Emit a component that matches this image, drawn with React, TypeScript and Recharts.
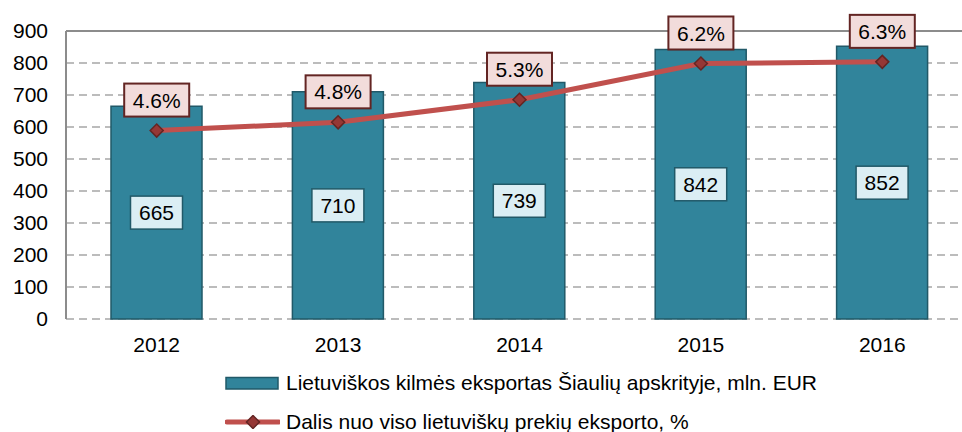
import {
  Bar,
  CartesianGrid,
  ComposedChart,
  LabelList,
  Legend,
  Line,
  ReferenceLine,
  XAxis,
  YAxis,
} from "recharts";

/**
 * Eksportas is Siauliu apskrities: stulpeliai = mln. EUR, linija = dalis
 * nuo viso lietuvisku prekiu eksporto (%), ant paslepto antro Y.
 */

const METAI = ["2012", "2013", "2014", "2015", "2016"];
const EKSPORTAS = [665, 710, 739, 842, 852];
// skaitoma nuo tasku aukscio, etiketes rodo suapvalinta reiksme
const DALIS = [4.58, 4.78, 5.33, 6.21, 6.25];
const Y_TICKS = [0, 100, 200, 300, 400, 500, 600, 700, 800, 900];
const KRASTAI = [0, 1, 2, 3, 4, 5];

const PAV_STULP = "Lietuviškos kilmės eksportas Šiaulių apskrityje, mln. EUR";
const PAV_LINIJA = "Dalis nuo viso lietuviškų prekių eksporto, %";

const SRIFTAS = '"Liberation Sans", Arial, sans-serif';
const FS = 21;

const TEAL = "#31849B";
const TEAL_TAMSI = "#215968";
const RAUDONA = "#C0504D";
const RAUDONA_TAMSI = "#632523";

const duomenys = METAI.map((m, i) => ({
  metai: m,
  eksportas: EKSPORTAS[i],
  dalis: DALIS[i],
}));

function StulpEtikete(props: any) {
  const { x, y, width, height, value } = props;
  const cx = x + width / 2;
  const cy = y + height / 2;
  const w = 52;
  const h = 33;
  return (
    <g>
      <rect
        x={cx - w / 2}
        y={cy - h / 2}
        width={w}
        height={h}
        fill="#DBEEF4"
        stroke={TEAL_TAMSI}
        strokeWidth={1.5}
      />
      <text
        x={cx}
        y={cy}
        dy="0.36em"
        textAnchor="middle"
        fontSize={FS}
        fontFamily={SRIFTAS}
        fill="#000"
      >
        {value}
      </text>
    </g>
  );
}

function DalisEtikete(props: any) {
  const { x, y, value } = props;
  const cy = y - 30.5;
  const w = 65;
  const h = 33;
  return (
    <g>
      <rect
        x={x - w / 2}
        y={cy - h / 2}
        width={w}
        height={h}
        fill="#F2DCDB"
        stroke={RAUDONA_TAMSI}
        strokeWidth={2}
      />
      <text
        x={x}
        y={cy}
        dy="0.36em"
        textAnchor="middle"
        fontSize={FS}
        fontFamily={SRIFTAS}
        fill="#000"
      >
        {`${Number(value).toFixed(1)}%`}
      </text>
    </g>
  );
}

function Rombas(props: any) {
  const { cx, cy } = props;
  const r = 6.5;
  return (
    <polygon
      points={`${cx},${cy - r} ${cx + r},${cy} ${cx},${cy + r} ${cx - r},${cy}`}
      fill="#953735"
      stroke={RAUDONA_TAMSI}
      strokeWidth={1.5}
    />
  );
}

function Legenda() {
  const eilute = {
    display: "flex",
    alignItems: "center",
    height: 39,
    fontFamily: SRIFTAS,
    fontSize: FS,
    color: "#000",
    whiteSpace: "nowrap" as const,
  };
  return (
    <div>
      <div style={eilute}>
        <svg width={55} height={14} style={{ marginRight: 6 }}>
          <rect
            x={1}
            y={1.5}
            width={52}
            height={11.5}
            fill={TEAL}
            stroke={TEAL_TAMSI}
            strokeWidth={1.5}
          />
        </svg>
        <span>{PAV_STULP}</span>
      </div>
      <div style={eilute}>
        <svg width={55} height={14} style={{ marginRight: 6 }}>
          <line
            x1={2}
            y1={7}
            x2={54}
            y2={7}
            stroke={RAUDONA}
            strokeWidth={5}
            strokeLinecap="round"
          />
          <Rombas cx={28} cy={7} />
        </svg>
        <span>{PAV_LINIJA}</span>
      </div>
    </div>
  );
}

export default function App() {
  return (
    <div
      style={{
        position: "fixed",
        left: 0,
        top: 0,
        width: 962,
        height: 432,
        overflow: "hidden",
        background: "#fff",
      }}
    >
      <ComposedChart
        width={973}
        height={432}
        data={duomenys}
        margin={{ top: 31, right: 0, bottom: 73, left: 0 }}
      >
        <CartesianGrid
          vertical={false}
          strokeDasharray="8 5"
          stroke="#A6A6A6"
          strokeWidth={1.5}
        />
        {/* tik briaunu briksneliai tarp kategoriju */}
        <XAxis
          type="number"
          domain={[0, 5]}
          ticks={KRASTAI}
          allowDataOverflow
          height={0}
          tick={false}
          tickSize={6}
          tickLine={{ stroke: "#8C8C8C", strokeWidth: 2 }}
          axisLine={{ stroke: "#8C8C8C", strokeWidth: 2 }}
        />
        <XAxis
          xAxisId="cat"
          dataKey="metai"
          height={40}
          axisLine={false}
          tickLine={false}
          tickSize={0}
          tickMargin={18}
          tick={{ fill: "#000", fontSize: FS, fontFamily: SRIFTAS }}
        />
        <YAxis
          width={66}
          domain={[0, 900]}
          ticks={Y_TICKS}
          tickLine={false}
          tickSize={0}
          tickMargin={18}
          axisLine={{ stroke: "#8C8C8C", strokeWidth: 2 }}
          tick={{ fill: "#000", fontSize: FS, fontFamily: SRIFTAS }}
        />
        <YAxis yAxisId="pct" orientation="right" domain={[0, 7]} hide />
        <ReferenceLine y={900} stroke="#8C8C8C" strokeWidth={2} />
        <Bar
          xAxisId="cat"
          dataKey="eksportas"
          name={PAV_STULP}
          barSize={91}
          fill={TEAL}
          stroke={TEAL_TAMSI}
          strokeWidth={1.5}
          isAnimationActive={false}
        >
          <LabelList dataKey="eksportas" content={StulpEtikete} />
        </Bar>
        <Line
          xAxisId="cat"
          yAxisId="pct"
          dataKey="dalis"
          name={PAV_LINIJA}
          stroke={RAUDONA}
          strokeWidth={5}
          dot={<Rombas />}
          activeDot={false}
          isAnimationActive={false}
        >
          <LabelList dataKey="dalis" content={DalisEtikete} />
        </Line>
        <Legend
          layout="vertical"
          align="center"
          verticalAlign="middle"
          wrapperStyle={{ left: 225, top: 363, width: "auto" }}
          content={() => <Legenda />}
        />
      </ComposedChart>
    </div>
  );
}
